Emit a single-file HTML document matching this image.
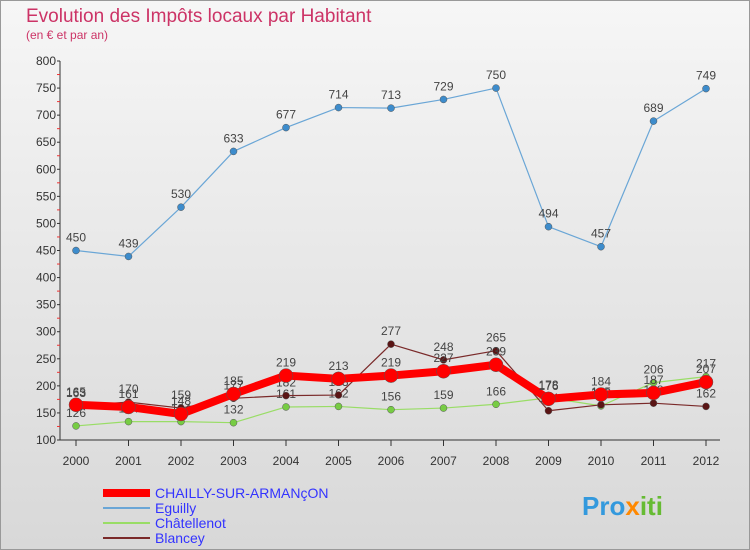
<!DOCTYPE html>
<html><head><meta charset="utf-8"><style>
body{margin:0;width:750px;height:550px;overflow:hidden;font-family:"Liberation Sans",sans-serif}
</style></head><body>
<svg width="750" height="550" style="position:absolute;left:0;top:0">
<defs>
<linearGradient id="bg" x1="0" y1="0" x2="0" y2="1"><stop offset="0" stop-color="#f6f6f6"/><stop offset="1" stop-color="#d8d8d8"/></linearGradient>
</defs>
<rect x="0.5" y="0.5" width="749" height="549" fill="url(#bg)" stroke="#999"/>
<text x="26" y="22" font-size="19" fill="#cc3366">Evolution des Impôts locaux par Habitant</text>
<text x="26" y="39" font-size="12" fill="#cc3366">(en € et par an)</text>
<g id="axes"></g>
<g id="series"></g>
<g>
<line x1="103" y1="493" x2="150" y2="493" stroke="#ff0000" stroke-width="8"/>
<text x="155" y="498" font-size="14" fill="#3333ff">CHAILLY-SUR-ARMANçON</text>
<line x1="103" y1="508" x2="150" y2="508" stroke="#6aa6d6" stroke-width="2"/>
<text x="155" y="513" font-size="14" fill="#3333ff">Eguilly</text>
<line x1="103" y1="523" x2="150" y2="523" stroke="#99dd66" stroke-width="2"/>
<text x="155" y="528" font-size="14" fill="#3333ff">Châtellenot</text>
<line x1="103" y1="538" x2="150" y2="538" stroke="#7a2a2a" stroke-width="2"/>
<text x="155" y="543" font-size="14" fill="#3333ff">Blancey</text>
</g>
<text x="582" y="515" font-size="26" font-weight="bold" fill="#3399dd">Pro<tspan fill="#ff8800">x</tspan><tspan fill="#66bb33">iti</tspan></text>
</svg>
<script>
const years=[2000,2001,2002,2003,2004,2005,2006,2007,2008,2009,2010,2011,2012];
const yTicks=[100,150,200,250,300,350,400,450,500,550,600,650,700,750,800];
const eguilly=[450,439,530,633,677,714,713,729,750,494,457,689,749];
const chatellenot=[126,134,134,132,161,162,156,159,166,178,163,206,217];
const blancey=[163,170,159,177,182,183,277,248,265,154,165,168,162];
const chailly=[165,161,148,185,219,213,219,227,239,176,184,187,207];
const NS="http://www.w3.org/2000/svg";
const x=i=>76+i*(706-76)/(years.length-1);
const y=v=>440-(v-100)*(440-61)/700;
const ax=document.getElementById('axes'),sg=document.getElementById('series');
function mk(tag,attrs,parent){const e=document.createElementNS(NS,tag);for(const k in attrs)e.setAttribute(k,attrs[k]);parent.appendChild(e);return e;}
let l=mk('line',{x1:60,y1:61,x2:60,y2:440,stroke:'#333'},ax);


l=mk('line',{x1:60,y1:440,x2:720,y2:440,stroke:'#333'},ax);


yTicks.forEach(v=>{
 const t=mk('text',{x:56,y:y(v)+4,'font-size':12,'text-anchor':'end',fill:'#333'},ax);t.textContent=v;
 
 
 mk('line',{x1:57,y1:y(v),x2:60,y2:y(v),stroke:'#333'},ax);
 if(v<800){const m=mk('line',{x1:57,y1:y(v+25),x2:60,y2:y(v+25),stroke:'#e33'},ax);}
});
years.forEach((yr,i)=>{
 mk('line',{x1:x(i),y1:440,x2:x(i),y2:446,stroke:'#333'},ax);
 const t=mk('text',{x:x(i),y:465,'font-size':12,'text-anchor':'middle',fill:'#333'},ax);t.textContent=yr;
 
 
});
function series(data,name,color,w,r,dot){
 const g=mk('g',{},sg);
 
 
 const p=mk('polyline',{points:data.map((v,i)=>x(i)+','+y(v)).join(' '),fill:'none',stroke:color,'stroke-width':w,'stroke-linejoin':'round'},g);
 
 
 data.forEach((v,i)=>{
  const c=mk('circle',{cx:x(i),cy:y(v),r:r,fill:dot,stroke:'#555','stroke-width':0.5},g);
  
  
  const t=mk('text',{x:x(i),y:y(v)-9,'font-size':12,'text-anchor':'middle',fill:'#444'},g);t.textContent=v;
  
  
 });
}
series(eguilly,'eguilly','#6aa6d6',1.2,3.5,'#3d8ccc');
series(chatellenot,'chatellenot','#99dd66',1.2,3.5,'#77cc44');
series(blancey,'blancey','#7a2a2a',1.2,3.5,'#5a1515');
series(chailly,'chailly','#ff0000',8,7,'#ff0000');
</script>
</body></html>
